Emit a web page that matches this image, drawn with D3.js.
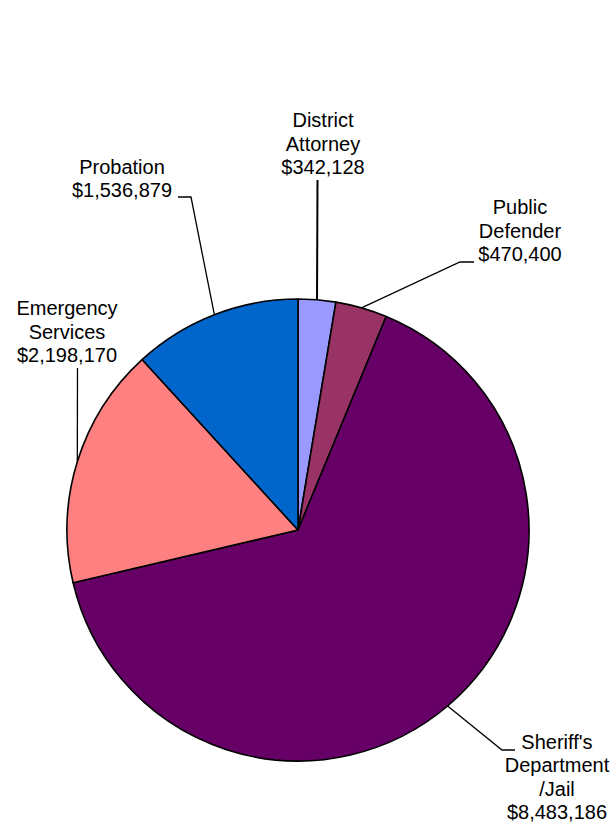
<!DOCTYPE html>
<html>
<head>
<meta charset="utf-8">
<script src="https://cdn.jsdelivr.net/npm/d3@7"></script>
<style>
  html, body { margin: 0; padding: 0; background: #fff; }
  svg { display: block; }
  text { font-family: "Liberation Sans", Arial, sans-serif; font-size: 20px; fill: #000; }
</style>
</head>
<body>
<svg id="chart" width="615" height="830"></svg>
<script>
// Budget by department
const categories = ["District Attorney", "Public Defender", "Sheriff's Department/Jail", "Emergency Services", "Probation"];
const values = [342128, 470400, 8483186, 2198170, 1536879];
const colors = ["#9999FF", "#993366", "#660066", "#FF8080", "#0066CC"];
const labelLines = [
  ["District", "Attorney"],
  ["Public", "Defender"],
  ["Sheriff's", "Department", "/Jail"],
  ["Emergency", "Services"],
  ["Probation"]
];

// Label placement: text anchor point (centre x, baseline of last line),
// and leader path bend points (from slice edge outward).
const labelLayout = [
  { x: 323, y: 174, bend: [[317.5, 180]] },
  { x: 520, y: 261, bend: [[460, 262], [474, 262]] },
  { x: 557, y: 819, bend: [[502, 750], [515, 750]] },
  { x: 67,  y: 362, bend: [[77.5, 368]] },
  { x: 122, y: 197, bend: [[191, 197], [178, 197]] }
];

const cx = 298, cy = 530, r = 231, lineH = 23.5;
const fmt = d3.format("$,");

const svg = d3.select("#chart");
const g = svg.append("g").attr("transform", `translate(${cx},${cy})`);

const data = categories.map((c, i) => ({ name: c, value: values[i], i }));
const pie = d3.pie().value(d => d.value).sort(null);
const arcs = pie(data);
const arc = d3.arc().innerRadius(0).outerRadius(r);

g.selectAll("path.slice")
  .data(arcs)
  .join("path")
  .attr("class", "slice")
  .attr("d", arc)
  .attr("fill", d => colors[d.data.i])
  .attr("stroke", "#000")
  .attr("stroke-width", 1.6)
  .attr("stroke-linejoin", "round");

// Leader lines from the slice's outer midpoint
arcs.forEach(a => {
  const mid = (a.startAngle + a.endAngle) / 2;
  const p0 = [cx + r * Math.sin(mid), cy - r * Math.cos(mid)];
  const pts = [p0, ...labelLayout[a.data.i].bend];
  svg.append("path")
    .attr("d", d3.line()(pts))
    .attr("fill", "none")
    .attr("stroke", "#000")
    .attr("stroke-width", a.data.i === 0 ? 2 : 1.3);
});

// Labels
arcs.forEach(a => {
  const i = a.data.i;
  const lines = [...labelLines[i], fmt(values[i])];
  const L = labelLayout[i];
  const t = svg.append("text").attr("text-anchor", "middle");
  lines.forEach((ln, k) => {
    t.append("tspan")
      .attr("x", L.x)
      .attr("y", L.y - (lines.length - 1 - k) * lineH)
      .text(ln);
  });
});
</script>
</body>
</html>
